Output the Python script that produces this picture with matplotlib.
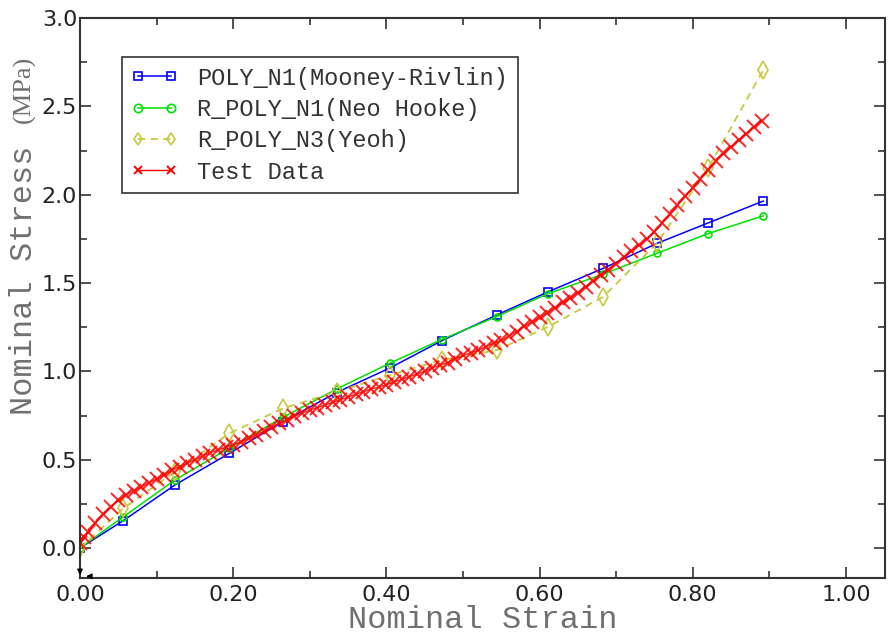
import matplotlib
matplotlib.use("Agg")
import matplotlib.pyplot as plt
from matplotlib.ticker import MultipleLocator, FormatStrFormatter

# model evaluation points (nominal strain)
strain_model = [0.0, 0.0566, 0.124, 0.195, 0.265, 0.335, 0.405, 0.472,
                0.544, 0.611, 0.683, 0.753, 0.820, 0.892]

# nominal stress (MPa) for each fitted model
mooney = [0.0, 0.155, 0.357, 0.536, 0.715, 0.880, 1.020, 1.173,
          1.319, 1.450, 1.583, 1.724, 1.840, 1.964]
neo_hooke = [0.0, 0.177, 0.385, 0.566, 0.740, 0.900, 1.047, 1.180,
             1.310, 1.440, 1.550, 1.668, 1.780, 1.880]
yeoh = [0.0, 0.225, 0.432, 0.649, 0.790, 0.885, 0.979, 1.064,
        1.120, 1.252, 1.422, 1.724, 2.149, 2.705]

# test data
strain_test = [0.0, 0.005, 0.01, 0.02, 0.03, 0.04, 0.05, 0.06, 0.07, 0.08,
               0.09, 0.10, 0.11, 0.12, 0.13, 0.14, 0.15, 0.16, 0.17, 0.18,
               0.19, 0.20, 0.21, 0.22, 0.23, 0.24, 0.25, 0.26, 0.27, 0.28,
               0.29, 0.30, 0.31, 0.32, 0.33, 0.34, 0.35, 0.36, 0.37, 0.38,
               0.39, 0.40, 0.41, 0.42, 0.43, 0.44, 0.45, 0.46, 0.47, 0.48,
               0.49, 0.50, 0.51, 0.52, 0.53, 0.54, 0.55, 0.56, 0.57, 0.58,
               0.59, 0.60, 0.61, 0.62, 0.63, 0.64, 0.65, 0.66, 0.67, 0.68,
               0.69, 0.70, 0.71, 0.72, 0.73, 0.74, 0.75, 0.76, 0.77, 0.78,
               0.79, 0.80, 0.81, 0.82, 0.83, 0.84, 0.85, 0.86, 0.87, 0.88,
               0.89]
stress_test = [0.03, 0.06, 0.09, 0.14, 0.19, 0.23, 0.27, 0.30, 0.325, 0.345,
               0.37, 0.39, 0.415, 0.44, 0.46, 0.48, 0.50, 0.52, 0.54, 0.555,
               0.57, 0.585, 0.60, 0.62, 0.64, 0.66, 0.685, 0.705, 0.725, 0.745,
               0.765, 0.78, 0.795, 0.81, 0.825, 0.84, 0.855, 0.87, 0.885, 0.90,
               0.91, 0.925, 0.94, 0.955, 0.97, 0.985, 1.00, 1.02, 1.036, 1.05,
               1.07, 1.09, 1.105, 1.12, 1.14, 1.16, 1.175, 1.20, 1.225, 1.255,
               1.28, 1.305, 1.33, 1.36, 1.39, 1.415, 1.445, 1.48, 1.51, 1.545,
               1.575, 1.61, 1.645, 1.68, 1.715, 1.75, 1.79, 1.84, 1.89, 1.94,
               1.99, 2.04, 2.09, 2.14, 2.19, 2.235, 2.27, 2.31, 2.345, 2.385,
               2.42]

labels = ["POLY_N1(Mooney-Rivlin)", "R_POLY_N1(Neo Hooke)",
          "R_POLY_N3(Yeoh)", "Test Data"]

mono = "Liberation Mono"
grey = "#707070"

fig = plt.figure(figsize=(8.89, 6.37), dpi=100)
ax = fig.add_axes([0.09, 0.0926, 0.9055, 0.879])

ax.plot(strain_model, mooney, color="#0000ff", lw=1.1, marker="s", ms=6,
        mfc="none", mew=1.2, label=labels[0])
ax.plot(strain_model, neo_hooke, color="#00e000", lw=1.1, marker="o", ms=5,
        mfc="none", mew=1.2, label=labels[1])
ax.plot(strain_model, yeoh, color="#c8c83c", lw=1.3, ls=(0, (4, 3)), marker="d",
        ms=9, mfc="none", mew=1.2, label=labels[2])
ax.plot(strain_test, stress_test, color="#ff0000", lw=1.0, marker="x", ms=10,
        mew=1.4, alpha=0.85, label=labels[3])

ax.set_xlim(0, 1.051)
ax.set_ylim(-0.17, 3.0)

ax.xaxis.set_major_locator(MultipleLocator(0.2))
ax.xaxis.set_minor_locator(MultipleLocator(0.1))
ax.yaxis.set_major_locator(MultipleLocator(0.5))
ax.yaxis.set_minor_locator(MultipleLocator(0.25))
ax.xaxis.set_major_formatter(FormatStrFormatter("%.2f"))
ax.yaxis.set_major_formatter(FormatStrFormatter("%.1f"))

ax.tick_params(which="both", direction="in", top=True, right=True,
               color="#333333", width=1.2)
ax.tick_params(which="major", length=8, labelsize=16, labelcolor="#222222")
ax.tick_params(which="minor", length=5)
ax.tick_params(axis="x", pad=5)
ax.tick_params(axis="y", pad=2)
for sp in ax.spines.values():
    sp.set_color("#333333")
    sp.set_linewidth(1.5)

# little view triad at the origin corner
ax.annotate("", xy=(0.0, 0.0), xycoords="axes fraction",
            xytext=(0.0, 0.018), textcoords="axes fraction",
            arrowprops=dict(arrowstyle="-|>", color="black", lw=1.0,
                            mutation_scale=8))
ax.annotate("", xy=(0.004, 0.003), xycoords="axes fraction",
            xytext=(0.016, 0.003), textcoords="axes fraction",
            arrowprops=dict(arrowstyle="-|>", color="black", lw=1.0,
                            mutation_scale=8))

ax.set_xlabel("Nominal Strain", family=mono, fontsize=23, color=grey,
              labelpad=0)
fig.text(0.027, 0.56, "Nominal Stress", family=mono, fontsize=23, color=grey,
         rotation=90, ha="center", va="center")
fig.text(0.027, 0.86, "(MPa)", family="Liberation Serif", fontsize=19,
         color=grey, rotation=90, ha="center", va="center")

leg = ax.legend(loc="upper left", bbox_to_anchor=(0.052, 0.93),
                borderaxespad=0, fancybox=False, framealpha=1,
                edgecolor="#333333", prop={"family": mono, "size": 17},
                numpoints=2, handlelength=2.0, labelspacing=0.35,
                handletextpad=0.8, borderpad=0.4)
leg.get_frame().set_linewidth(1.2)
for t in leg.get_texts():
    t.set_color("#333333")
for h in leg.get_lines():
    h.set_markersize(6)
    h.set_alpha(1)

fig.savefig("out.png", dpi=100)
